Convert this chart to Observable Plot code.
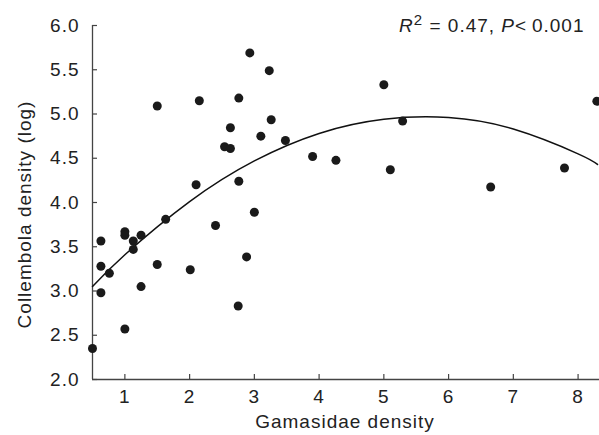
<!DOCTYPE html>
<html><head><meta charset="utf-8">
<script src="https://cdn.jsdelivr.net/npm/d3@7"></script>
<script src="https://cdn.jsdelivr.net/npm/@observablehq/plot@0.6"></script>
<style>
html,body{margin:0;padding:0;background:#fff;}
#chart svg{display:block;}
#chart svg text{letter-spacing:1px;}
</style></head><body><div id="chart"></div>
<script>
const gamasidae = [0.50, 0.63, 0.63, 0.63, 0.76, 1.00, 1.00, 1.00, 1.13, 1.13,
  1.25, 1.25, 1.50, 1.50, 1.63, 2.01, 2.10, 2.15, 2.40, 2.54,
  2.63, 2.63, 2.75, 2.76, 2.76, 2.88, 2.93, 3.00, 3.10, 3.23,
  3.26, 3.48, 3.90, 4.26, 5.00, 5.10, 5.29, 6.65, 7.79, 8.29];
const collembola = [2.35, 3.565, 3.28, 2.98, 3.20, 3.67, 3.63, 2.57, 3.565, 3.47,
  3.63, 3.05, 3.30, 5.09, 3.81, 3.24, 4.20, 5.15, 3.74, 4.63,
  4.61, 4.845, 2.83, 4.24, 5.18, 3.385, 5.69, 3.89, 4.75, 5.49,
  4.935, 4.70, 4.52, 4.476, 5.33, 4.37, 4.92, 4.175, 4.39, 5.145];
// Fitted quadratic curve
const fitX = [0.5, 1, 2, 3, 4, 5, 6, 7, 8, 8.3];
const fitY = [3.05, 3.41, 4.01, 4.47, 4.78, 4.94, 4.96, 4.83, 4.55, 4.43];
const xTicks = [1, 2, 3, 4, 5, 6, 7, 8];
const yTicks = [2.0, 2.5, 3.0, 3.5, 4.0, 4.5, 5.0, 5.5, 6.0];
const xLabel = "Gamasidae density";
const yLabel = "Collembola density (log)";
const statR2 = "0.47";
const statP = "0.001";

const points = gamasidae.map((g, i) => ({g, c: collembola[i]}));
const fit = fitX.map((x, i) => ({x, y: fitY[i]}));
const ink = "#222";
const axisInk = "#444";
const W = 599, H = 435, mL = 92, mR = 2, mT = 25, mB = 56;
const tickLen = 5;

const plot = Plot.plot({
  width: W, height: H,
  marginLeft: mL, marginRight: mR, marginTop: mT, marginBottom: mB,
  style: {fontFamily: "'Liberation Sans', Arial, Helvetica, sans-serif", fontSize: "19px", color: ink, background: "#fff", overflow: "visible"},
  x: {domain: [0.5, 8.3]},
  y: {domain: [2, 6]},
  marks: [
    Plot.ruleX([0.5], {stroke: axisInk, strokeWidth: 1.3}),
    Plot.ruleY([2], {stroke: axisInk, strokeWidth: 1.3, insetRight: -2}),
    // inward tick marks
    Plot.tickX(xTicks, {x: d => d, stroke: axisInk, strokeWidth: 1.2, insetTop: (H - mT - mB) - tickLen}),
    Plot.tickY(yTicks, {y: d => d, stroke: axisInk, strokeWidth: 1.2, insetRight: (W - mL - mR) - tickLen}),
    Plot.axisX(xTicks, {tickSize: 0, tickPadding: 10, label: null, fill: ink}),
    Plot.axisY(yTicks, {tickSize: 0, tickPadding: 13, label: null, tickFormat: d => d.toFixed(1), fill: ink}),
    Plot.line(fit, {x: "x", y: "y", curve: "natural", stroke: "#111", strokeWidth: 1.5}),
    Plot.dot(points, {x: "g", y: "c", r: 4.5, fill: "#1a1a1a", stroke: "none"}),
    Plot.text([xLabel], {frameAnchor: "bottom", lineAnchor: "middle", dy: 42, fill: ink}),
    Plot.text([yLabel], {frameAnchor: "left", textAnchor: "middle", rotate: -90, lineAnchor: "middle", dx: -68, dy: 12, fill: ink}),
    Plot.text(["__stat__"], {frameAnchor: "top-right", textAnchor: "end", lineAnchor: "middle", dx: -13, dy: 0, fill: ink})
  ]
});
document.getElementById("chart").appendChild(plot);

// Rich text for the statistics annotation
const t = d3.select(plot).selectAll("text").filter(function () { return this.textContent === "__stat__"; });
t.text(null);
t.append("tspan").attr("font-style", "italic").text("R");
t.append("tspan").attr("font-size", "15px").attr("dy", -7).text("2");
t.append("tspan").attr("dy", 7).text(" = " + statR2 + ", ");
t.append("tspan").attr("font-style", "italic").text("P");
t.append("tspan").text("<\u2009" + statP);
</script></body></html>
